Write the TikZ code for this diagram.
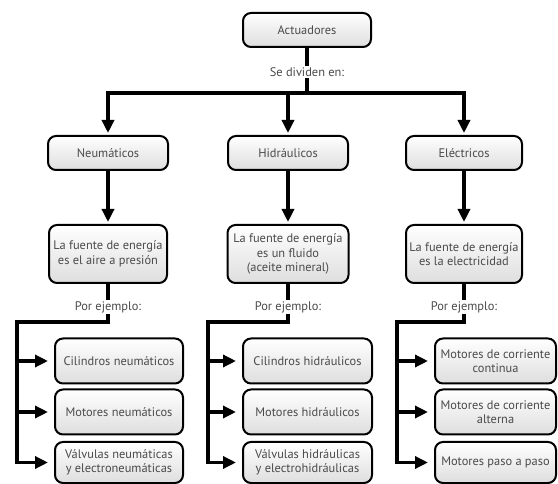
\documentclass[tikz,border=0pt]{standalone}
\usepackage{fontspec}
\setmainfont{PT Sans}
\usetikzlibrary{arrows.meta}
\definecolor{txt}{HTML}{4A4A4A}
\begin{document}
\begin{tikzpicture}[x=1pt,y=-1pt,
  box/.style={draw=black, line width=2pt, rounded corners=8pt,
    top color=white, bottom color=gray!26, text=txt, align=center,
    inner sep=0pt, font=\fontsize{12.4}{14.5}\selectfont},
  lbl/.style={fill=white, inner sep=1.5pt, text=txt,
    font=\fontsize{12.4}{14.5}\selectfont},
  conn/.style={line width=3.6pt},
  arr/.style={conn, -{Triangle[length=13pt,width=12pt]}, shorten >=2pt},
  itemarr/.style={arr, shorten >=6pt}
]
\useasboundingbox (0,0) rectangle (558,484);

% root
\node[box, minimum width=128pt, minimum height=34pt] (act) at (307,30) {Actuadores};

% first level
\node[box, minimum width=120pt, minimum height=34pt] (neu) at (108,153) {Neumáticos};
\node[box, minimum width=120pt, minimum height=34pt] (hid) at (288,153) {Hidráulicos};
\node[box, minimum width=116pt, minimum height=34pt] (ele) at (464,153) {Eléctricos};

% energy source
\node[box, minimum width=118pt, minimum height=58pt] (neu2) at (108,254)
  {La fuente de energía\\es el aire a presión};
\node[box, minimum width=121pt, minimum height=58pt] (hid2) at (288,254)
  {La fuente de energía\\es un fluido\\(aceite mineral)};
\node[box, minimum width=116pt, minimum height=58pt] (ele2) at (464,254)
  {La fuente de energía\\es la electricidad};

% examples
\node[box, minimum width=128pt, minimum height=45pt] (n1) at (119,361) {Cilindros neumáticos};
\node[box, minimum width=128pt, minimum height=45pt] (n2) at (119,412) {Motores neumáticos};
\node[box, minimum width=128pt, minimum height=41pt] (n3) at (119,462.5) {Válvulas neumáticas\\y electroneumáticas};

\node[box, minimum width=129pt, minimum height=45pt] (h1) at (307.5,361) {Cilindros hidráulicos};
\node[box, minimum width=129pt, minimum height=45pt] (h2) at (307.5,412) {Motores hidráulicos};
\node[box, minimum width=129pt, minimum height=41pt] (h3) at (307.5,462.5) {Válvulas hidráulicas\\y electrohidráulicas};

\node[box, minimum width=121pt, minimum height=45pt] (e1) at (495.5,361) {Motores de corriente\\continua};
\node[box, minimum width=121pt, minimum height=45pt] (e2) at (495.5,412) {Motores de corriente\\alterna};
\node[box, minimum width=121pt, minimum height=41pt] (e3) at (495.5,462.5) {Motores paso a paso};

% top bus
\coordinate (bus) at (307,93);
\coordinate (busL) at (108,93);
\coordinate (busR) at (464,93);
\draw[conn] (act.south) -- (bus);
\node[lbl] at (307,72) {Se dividen en:};
\draw[arr] (busR) -- (busL) -- (neu.north);
\draw[arr] (busL) -- (busR) -- (ele.north);
\draw[arr] (hid.north |- bus) -- (hid.north);

% first level to energy source
\draw[arr] (neu.south) -- (neu2.north);
\draw[arr] (hid.south) -- (hid2.north);
\draw[arr] (ele.south) -- (ele2.north);

% example branches
\coordinate (nc) at (17,322);
\coordinate (hc) at (208,322);
\coordinate (ec) at (397,322);

\draw[itemarr] (neu2.south) |- (nc) |- (n3.west);
\draw[itemarr] (n1.west -| nc) -- (n1.west);
\draw[itemarr] (n2.west -| nc) -- (n2.west);
\node[lbl] at (108,307) {Por ejemplo:};

\draw[itemarr] (hid2.south) |- (hc) |- (h3.west);
\draw[itemarr] (h1.west -| hc) -- (h1.west);
\draw[itemarr] (h2.west -| hc) -- (h2.west);
\node[lbl] at (288,307) {Por ejemplo:};

\draw[itemarr] (ele2.south) |- (ec) |- (e3.west);
\draw[itemarr] (e1.west -| ec) -- (e1.west);
\draw[itemarr] (e2.west -| ec) -- (e2.west);
\node[lbl] at (464,307) {Por ejemplo:};
\end{tikzpicture}
\end{document}
